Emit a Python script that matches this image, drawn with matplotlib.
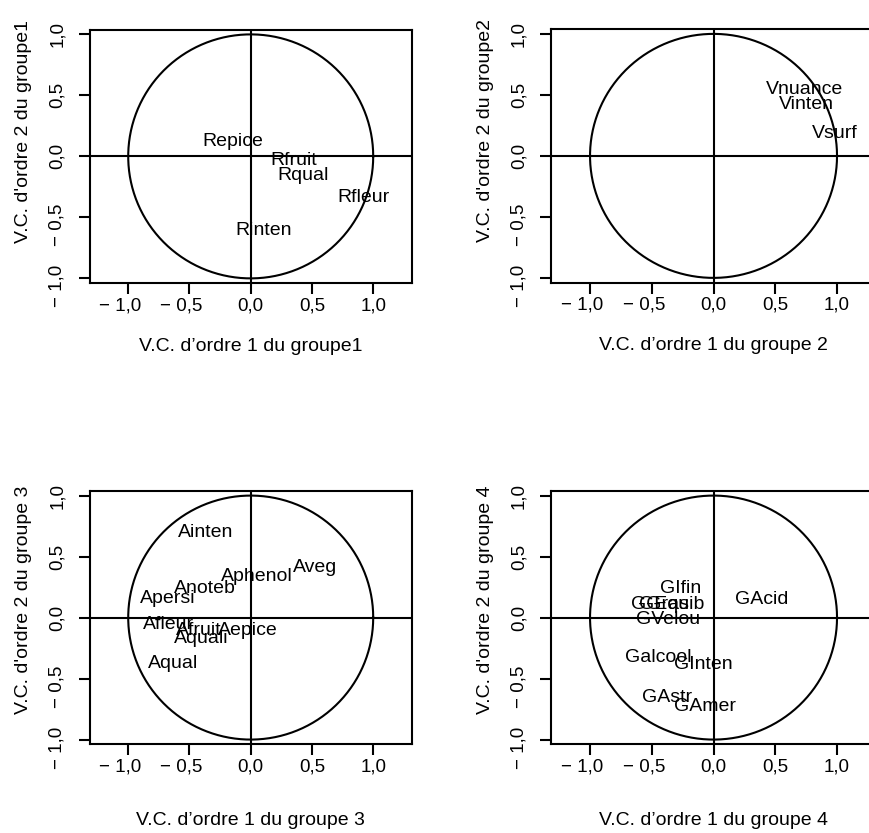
import numpy as np
import matplotlib
matplotlib.use("Agg")
import matplotlib.pyplot as plt

plt.rcParams['font.family'] = ['Liberation Sans', 'DejaVu Sans']

# ---- data ----
g1_labels = ["Repice", "Rfruit", "Rqual", "Rfleur", "Rinten"]
g1_x = [-0.145, 0.35, 0.43, 0.92, 0.105]
g1_y = [0.14, -0.01, -0.14, -0.32, -0.59]

g2_labels = ["Vnuance", "Vinten", "Vsurf"]
g2_x = [0.74, 0.755, 0.98]
g2_y = [0.565, 0.445, 0.205]

g3_labels = ["Ainten", "Aveg", "Aphenol", "Anoteb", "Apersi", "Afleur",
             "Afruit", "Aquali", "Aepice", "Aqual"]
g3_x = [-0.365, 0.525, 0.05, -0.37, -0.68, -0.667, -0.42, -0.405, -0.02, -0.635]
g3_y = [0.72, 0.43, 0.36, 0.26, 0.18, -0.04, -0.085, -0.15, -0.085, -0.355]

g4_labels = ["GIfin", "GAcid", "GGras", "GEquib", "GVelou", "Galcool",
             "GInten", "GAstr", "GAmer"]
g4_x = [-0.265, 0.39, -0.43, -0.336, -0.366, -0.445, -0.08, -0.375, -0.07]
g4_y = [0.26, 0.17, 0.126, 0.126, 0.005, -0.31, -0.363, -0.636, -0.71]

tick_vals = [-1.0, -0.5, 0.0, 0.5, 1.0]
# negative labels padded on the right so the number itself sits on the tick
tick_labels = ["\u2212 1,0   ", "\u2212 0,5   ", "0,0", "0,5", "1,0"]

xlabels = ["V.C. d\u2019ordre 1 du groupe1", "V.C. d\u2019ordre 1 du groupe 2",
           "V.C. d\u2019ordre 1 du groupe 3", "V.C. d\u2019ordre 1 du groupe 4"]
ylabels = ["V.C. d'ordre 2 du groupe1", "V.C. d'ordre 2 du groupe2",
           "V.C. d'ordre 2 du groupe 3", "V.C. d'ordre 2 du groupe 4"]

panels = [
    (g1_labels, g1_x, g1_y),
    (g2_labels, g2_x, g2_y),
    (g3_labels, g3_x, g3_y),
    (g4_labels, g4_x, g4_y),
]

# ---- layout (pixels) ----
W, H = 869, 833
fig = plt.figure(figsize=(W / 100, H / 100), dpi=100)
fig.patch.set_facecolor("white")

XL = 1.316
YL = 1.04
# (left, top, unit_x, unit_y, ylabel center y frac, xlabel offset px)
boxes = [
    (89.5, 29.5, 122.5, 122.0, 0.60, 63),
    (551.0, 29.0, 123.5, 122.0, 0.60, 63),
    (89.5, 490.7, 122.5, 122.0, 0.57, 76),
    (551.0, 490.7, 123.5, 122.0, 0.57, 76),
]

LW = 1.5
FS = 14
for i, ((labs, xs, ys), (l, t, ux, uy, yfrac, xoff)) in enumerate(zip(panels, boxes)):
    w = 2 * XL * ux
    h = 2 * YL * uy
    ax = fig.add_axes([l / W, 1 - (t + h) / H, w / W, h / H])
    ax.set_xlim(-XL, XL)
    ax.set_ylim(-YL, YL)
    for sp in ax.spines.values():
        sp.set_linewidth(LW)
    th = np.linspace(0, 2 * np.pi, 400)
    ax.plot(np.cos(th), np.sin(th), color="black", lw=LW)
    ax.axhline(0, color="black", lw=LW)
    ax.axvline(0, color="black", lw=LW)
    for s, x, y in zip(labs, xs, ys):
        ax.annotate(s, (x, y), xytext=(0, -5.0), textcoords="offset points",
                    ha="center", va="baseline", fontsize=FS, color="black")
    ax.set_xticks(tick_vals)
    ax.set_xticklabels(tick_labels, fontsize=13.5)
    ax.set_yticks(tick_vals)
    ax.set_yticklabels(tick_labels, fontsize=13.5, rotation=90, va="center")
    ax.tick_params(axis="both", direction="out", length=8, width=LW)
    ax.tick_params(axis="x", pad=2)
    ax.tick_params(axis="y", pad=9)
    ax.set_xlabel(xlabels[i], fontsize=FS)
    ax.xaxis.label.set_va("center")
    ax.xaxis.set_label_coords(0.5, -xoff / h)
    ax.set_ylabel(ylabels[i], fontsize=FS)
    ax.yaxis.label.set_va("center")
    ax.yaxis.set_label_coords(-66 / w, yfrac)

fig.savefig("out.png", dpi=100)
